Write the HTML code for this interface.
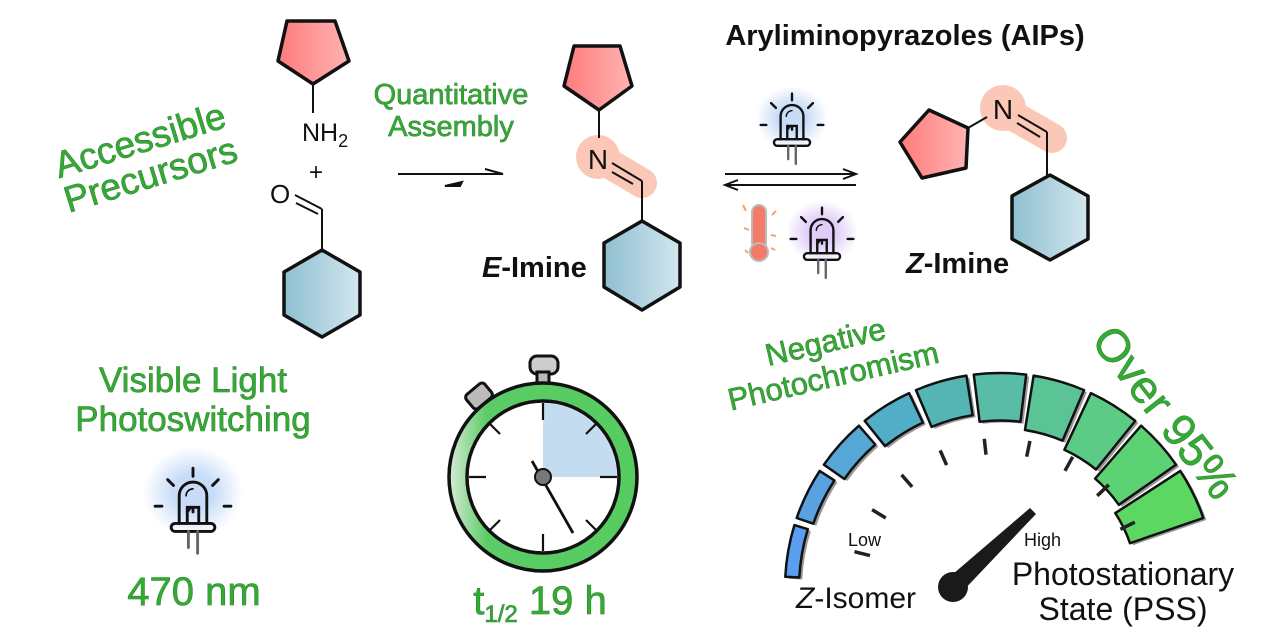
<!DOCTYPE html>
<html><head><meta charset="utf-8"><style>
html,body{margin:0;padding:0;background:#fff;}
svg{display:block;}
.g{fill:#33aa33;font-family:"Liberation Sans",sans-serif;stroke:#1c5c1c;stroke-width:0.6px;paint-order:stroke;}
.k{font-family:"Liberation Sans",sans-serif;fill:#111;}
</style></head><body>
<svg id="s" width="1280" height="640" viewBox="0 0 1280 640" xmlns="http://www.w3.org/2000/svg">
<defs>
<linearGradient id="pk" x1="0" x2="1"><stop offset="0" stop-color="#ff7b7b"/><stop offset="1" stop-color="#ffb3b3"/></linearGradient>
<linearGradient id="bl" x1="0" x2="1"><stop offset="0" stop-color="#8fbfd0"/><stop offset="1" stop-color="#d2e6ee"/></linearGradient>
<radialGradient id="gb"><stop offset="0.4" stop-color="#c8dcf8"/><stop offset="1" stop-color="#c8dcf8" stop-opacity="0"/></radialGradient>
<radialGradient id="gp"><stop offset="0.4" stop-color="#e0ccf8"/><stop offset="1" stop-color="#e0ccf8" stop-opacity="0"/></radialGradient>
<linearGradient id="ring" x1="0" x2="1"><stop offset="0" stop-color="#d8ead8"/><stop offset="0.2" stop-color="#5ccc66"/><stop offset="1" stop-color="#55cc60"/></linearGradient>
<g id="led" fill="none" stroke="#111" stroke-width="2.5" stroke-linecap="round">
<path d="M-12,16 V-8 A12,12 0 0 1 12,-8 V16"/>
<path d="M-6,-8 A6,6 0 0 1 0,-14" stroke-width="1.5"/>
<rect x="-19" y="16" width="38" height="7" rx="3.5"/>
<path d="M-5,16 V2 H5 V16 M-5,6 L-2,2 M0,2 V6"/>
<path d="M-4,23 V37 M4,23 V42" stroke="#666"/>
<path d="M0,-32 V-25 M-22,-22 L-17,-17 M22,-22 L17,-17 M-33,1 H-27 M27,1 H33"/>
</g>
</defs>

<!-- Left reactants -->
<polygon points="287,21 335,21 349,61 313,84 278,61" fill="url(#pk)" stroke="#111" stroke-width="3.5" stroke-linejoin="round"/>
<line x1="313" y1="84" x2="313" y2="113" stroke="#111" stroke-width="2"/>
<text x="302" y="141" class="k" font-size="25">NH<tspan font-size="18" dy="6">2</tspan></text>
<text x="309" y="180" class="k" font-size="24">+</text>
<text x="270" y="203" class="k" font-size="26">O</text>
<path d="M295,195 L322,209 M296,203 L318,214 M322,209 V250" stroke="#111" stroke-width="2" fill="none"/>
<polygon points="322,250 360,272 360,315 322,337 284,315 284,272" fill="url(#bl)" stroke="#111" stroke-width="3.5" stroke-linejoin="round"/>

<!-- equilibrium arrow -->
<path d="M398,174 H503 L485,169" stroke="#111" stroke-width="2" fill="none"/>
<path d="M445,186 H460 L462,182 Z" stroke="#111" stroke-width="2" fill="#111"/>
<text x="451" y="104" class="g" font-size="29" text-anchor="middle">Quantitative</text>
<text x="451" y="136" class="g" font-size="29" text-anchor="middle">Assembly</text>

<!-- E imine -->
<path d="M598,157 L642,183" stroke="#fbc8b8" stroke-width="30" stroke-linecap="round"/>
<circle cx="598" cy="157" r="22" fill="#fbc8b8"/>
<polygon points="574,46 620,46 632,86 599,110 564,86" fill="url(#pk)" stroke="#111" stroke-width="3.5" stroke-linejoin="round"/>
<line x1="599" y1="110" x2="599" y2="138" stroke="#111" stroke-width="2"/>
<text x="598" y="169" class="k" font-size="28" text-anchor="middle">N</text>
<path d="M612,163 L642,181 M612,172 L633,184 M642,181 V221" stroke="#111" stroke-width="2" fill="none"/>
<polygon points="642,221 680,243 680,287 642,310 604,287 604,243" fill="url(#bl)" stroke="#111" stroke-width="3.5" stroke-linejoin="round"/>
<text x="482" y="277" class="k" font-size="29" font-weight="bold"><tspan font-style="italic">E</tspan>-Imine</text>

<text x="905" y="45" class="k" font-size="29" font-weight="bold" text-anchor="middle">Aryliminopyrazoles (AIPs)</text>

<!-- switch arrows -->
<ellipse cx="792" cy="118" rx="36" ry="32" fill="url(#gb)"/>
<use href="#led" transform="translate(792,124) scale(0.95)"/>
<path d="M725,174 H855 M843,169 L856,174 L843,179" stroke="#111" stroke-width="2" fill="none"/>
<path d="M725,185 H856 M738,180 L725,185 L738,190" stroke="#111" stroke-width="2" fill="none"/>
<rect x="752" y="205" width="14" height="45" rx="7" fill="#f47a6a" stroke="#bbb" stroke-width="2"/>
<circle cx="759" cy="252" r="9" fill="#f47a6a" stroke="#bbb" stroke-width="2"/>
<path d="M743,205 l3,6 M772,215 l4,-4 M744,228 l5,2 M771,235 l5,1 M745,250 l3,3 M771,248 l4,2" stroke="#f6a070" stroke-width="2"/>
<ellipse cx="822" cy="232" rx="36" ry="32" fill="url(#gp)"/>
<use href="#led" transform="translate(822,238) scale(0.95)"/>

<!-- Z imine -->
<path d="M1003,110 L1052,138" stroke="#fbc8b8" stroke-width="30" stroke-linecap="round"/>
<circle cx="1003" cy="108" r="23" fill="#fbc8b8"/>
<polygon points="900,142 929,110 968,128 966,168 922,178" fill="url(#pk)" stroke="#111" stroke-width="3.5" stroke-linejoin="round"/>
<line x1="968" y1="128" x2="987" y2="117" stroke="#111" stroke-width="2"/>
<text x="1003" y="119" class="k" font-size="28" text-anchor="middle">N</text>
<path d="M1018,115 L1047,132 M1017,123 L1040,137 M1047,132 V175" stroke="#111" stroke-width="2" fill="none"/>
<polygon points="1050,175 1088,196 1088,239 1050,260 1012,239 1012,196" fill="url(#bl)" stroke="#111" stroke-width="3.5" stroke-linejoin="round"/>
<text x="906" y="273" class="k" font-size="29" font-weight="bold"><tspan font-style="italic">Z</tspan>-Imine</text>

<!-- left texts -->
<g transform="translate(146,160) rotate(-17)">
<text x="0" y="-8" class="g" font-size="37" text-anchor="middle">Accessible</text>
<text x="0" y="28" class="g" font-size="37" text-anchor="middle">Precursors</text>
</g>
<text x="193" y="392" class="g" font-size="35" text-anchor="middle">Visible Light</text>
<text x="193" y="431" class="g" font-size="35" text-anchor="middle">Photoswitching</text>
<ellipse cx="193" cy="492" rx="50" ry="45" fill="url(#gb)"/>
<use href="#led" transform="translate(193,505) scale(1.15)"/>
<text x="194" y="605" class="g" font-size="40" text-anchor="middle">470 nm</text>

<!-- stopwatch -->
<rect x="530" y="356" width="28" height="18" rx="7" fill="#ccc" stroke="#111" stroke-width="3"/>
<rect x="537" y="372" width="12" height="14" fill="#bbb" stroke="#111" stroke-width="3"/>
<rect x="467" y="387" width="24" height="18" rx="4" fill="#bbb" stroke="#111" stroke-width="3" transform="rotate(-40 479 396)"/>
<circle cx="543" cy="477" r="94" fill="url(#ring)" stroke="#111" stroke-width="3.5"/>
<circle cx="543" cy="477" r="76" fill="#fff" stroke="#111" stroke-width="3.5"/>
<path d="M543,477 V403 A74,74 0 0 1 617,477 Z" fill="#c3dcf0"/>
<g stroke="#111" stroke-width="2.2">
<line x1="543" y1="403" x2="543" y2="420"/><line x1="543" y1="534" x2="543" y2="551"/>
<line x1="469" y1="477" x2="486" y2="477"/><line x1="600" y1="477" x2="617" y2="477"/>
<line x1="490" y1="424" x2="500" y2="434"/><line x1="596" y1="424" x2="586" y2="434"/>
<line x1="490" y1="530" x2="500" y2="520"/><line x1="596" y1="530" x2="586" y2="520"/>
<line x1="532" y1="461" x2="573" y2="533" stroke-width="2.8"/>
</g>
<circle cx="543" cy="477" r="8" fill="#777" stroke="#111" stroke-width="2"/>
<text x="540" y="614" class="g" font-size="40" text-anchor="middle">t<tspan font-size="24" dy="8">1/2</tspan><tspan dy="-8"> 19 h</tspan></text>

<!-- Negative photochromism -->
<g transform="translate(830,362) rotate(-13)">
<text x="0" y="-10" class="g" font-size="31" text-anchor="middle">Negative</text>
<text x="0" y="25" class="g" font-size="31" text-anchor="middle">Photochromism</text>
</g>

<g id="gauge"></g>
<text x="848" y="546" class="k" font-size="18">Low</text>
<text x="1024" y="546" class="k" font-size="18">High</text>
<text x="796" y="608" class="k" font-size="30"><tspan font-style="italic">Z</tspan>-Isomer</text>
<text x="1123" y="585" class="k" font-size="32" text-anchor="middle">Photostationary</text>
<text x="1123" y="620" class="k" font-size="32" text-anchor="middle">State (PSS)</text>
<path d="M946,580 L1030,508 L1036,514 L960,594 Z" fill="#1a1a1a"/>
<circle cx="953" cy="587" r="15" fill="#1a1a1a"/>
<text transform="translate(1153,422) rotate(52)" class="g" font-size="46" text-anchor="middle">Over 95%</text>
</svg>
<script>
(function(){
var g=document.getElementById('gauge'),cx=1000,cy=588,R=215,ns='http://www.w3.org/2000/svg';
var cols=['#5a9ef0','#58a2e2','#55a8d6','#52adc6','#55b5b4','#58bca6','#5ac496','#5ccb86','#5dd274','#5cd862'];
function P(r,a){a=a*Math.PI/180;return (cx+r*Math.cos(a)).toFixed(1)+','+(cy-r*Math.sin(a)).toFixed(1);}
var h='';
for(var i=0;i<10;i++){
 var a0=177-i*16,a1=a0-14,ri=R-10-i*7.5;
 if(i==0)ri=R-14;
 var d='M'+P(R,a0)+' A'+R+','+R+' 0 0 1 '+P(R,a1)+' L'+P(ri,a1)+' A'+ri+','+ri+' 0 0 0 '+P(ri,a0)+' Z';
 h+='<path d="'+d+'" fill="#999" transform="translate(3,2)"/>';
 h+='<path d="'+d+'" fill="'+cols[i]+'" stroke="#111" stroke-width="2.5" stroke-linejoin="round"/>';
}
for(var j=0;j<9;j++){
 var a=166-j*17.5;
 var p1=P(150,a).split(','),p2=P(134,a).split(',');
 h+='<line x1="'+p1[0]+'" y1="'+p1[1]+'" x2="'+p2[0]+'" y2="'+p2[1]+'" stroke="#222" stroke-width="3.5"/>';
}
g.innerHTML=h;
})();
</script>
</body></html>
